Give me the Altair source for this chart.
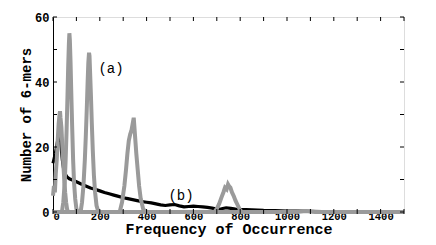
import altair as alt
import pandas as pd

# ---- data ----
# (b) black curve
b_x = [0, 5, 10, 15, 20, 25, 28, 32, 36, 40, 45, 50, 55, 60, 70, 80, 90, 100,
       120, 140, 160, 180, 200, 220, 240, 260, 280, 300, 320, 340, 360, 380, 400,
       420, 440, 460, 480, 500, 520, 540, 560, 580, 600, 620, 640, 660, 680, 700,
       720, 740, 760, 780, 800, 850, 900, 950, 1000, 1050, 1100, 1150, 1200,
       1300, 1400, 1500]
b_y = [15, 16.5, 18, 20, 22, 24, 25.5, 23, 19, 16, 13.5, 12, 11.3, 10.8, 10.2, 9.9, 9.6, 9.3,
       8.6, 8.0, 7.4, 7.0, 6.5, 6.0, 5.6, 5.2, 4.8, 4.4, 4.1, 3.8, 3.5, 3.2, 3.0,
       2.8, 2.5, 2.2, 2.0, 2.2, 2.3, 1.9, 1.6, 1.7, 1.8, 1.7, 1.6, 1.4, 1.2, 0.9,
       1.0, 1.3, 1.1, 0.9, 0.8, 0.7, 0.5, 0.4, 0.3, 0.3, 0.2, 0.1, 0.1,
       0, 0, 0]

# (a) grey peaks
p1_x = [0, 4, 8, 12, 16, 20, 24, 28, 30, 32, 36, 40, 44, 48, 52, 56, 60, 64]
p1_y = [5, 8, 6, 12, 16, 22, 27, 30, 31, 29, 26, 20, 15, 10, 6, 3, 1, 0]
p2_x = [38, 44, 50, 54, 58, 62, 65, 68, 70, 72, 75, 78, 82, 86, 90, 95, 100, 106]
p2_y = [0, 3, 9, 16, 25, 36, 45, 52, 55, 53, 46, 37, 26, 16, 9, 4, 1, 0]
p3_x = [118, 124, 130, 136, 140, 144, 148, 151, 154, 156, 158, 162, 166, 170, 175, 180, 186, 194]
p3_y = [0, 3, 8, 16, 23, 31, 40, 46, 49, 48, 44, 36, 27, 19, 11, 6, 2, 0]
p4_x = [285, 295, 305, 312, 318, 324, 330, 335, 340, 345, 350, 356, 362, 368, 375, 385, 395]
p4_y = [0, 3, 8, 13, 18, 22, 24, 25, 27, 29, 24, 18, 13, 8, 4, 1, 0]
p5_x = [690, 700, 710, 720, 728, 735, 742, 748, 752, 758, 765, 772, 780, 790, 800, 808]
p5_y = [0, 1, 2.5, 4.5, 6, 7.5, 7, 8.5, 8, 7.5, 6, 5, 3.5, 2, 0.5, 0]
base_x = [0, 1040, 1080, 1120, 1500]
base_y = [0, 0, 0.3, 0, 0]

# axis ticks / labels
x_label_vals = [0, 200, 400, 600, 800, 1000, 1200, 1400]
x_tick_vals = list(range(0, 1501, 100))
y_label_vals = [0, 20, 40, 60]
y_tick_vals = [0, 10, 20, 30, 40, 50, 60]

# annotations
ann_text = ["(a)", "(b)"]
ann_x = [248, 547]
ann_y = [44, 5]

W, H = 351, 195
FONT = "Liberation Mono"
GREY = "#9a9a9a"

black_df = pd.DataFrame({"x": b_x, "y": b_y})
grey_parts = []
for name, xs, ys in [("base", base_x, base_y), ("p1", p1_x, p1_y), ("p2", p2_x, p2_y),
                     ("p3", p3_x, p3_y), ("p4", p4_x, p4_y), ("p5", p5_x, p5_y)]:
    grey_parts.append(pd.DataFrame({"x": xs, "y": ys, "peak": name}))
grey_df = pd.concat(grey_parts, ignore_index=True)

xscale = alt.Scale(domain=[0, 1500], nice=False, zero=False)
yscale = alt.Scale(domain=[0, 60], nice=False)

xaxis = alt.Axis(values=x_label_vals, format="d", ticks=False, domain=False, grid=False,
                 labelFont=FONT, labelFontWeight="bold", labelFontSize=10.5,
                 labelPadding=-1, labelColor="black",
                 title="Frequency of Occurrence", titleFont=FONT, titleFontWeight="bold",
                 titleFontSize=15, titleY=21, titleBaseline="alphabetic", titleColor="black")
yaxis = alt.Axis(values=y_label_vals, format="d", ticks=False, domain=True, domainColor="black",
                 grid=False, labelFont=FONT, labelFontWeight="bold", labelFontSize=12,
                 labelPadding=4, labelColor="black",
                 title="Number of 6-mers", titleFont=FONT, titleFontWeight="bold",
                 titleFontSize=14, titleX=-27, titleY=H / 2, titleAngle=270,
                 titleAlign="center", titleBaseline="middle", titleColor="black")

black = alt.Chart(black_df).mark_line(color="black", strokeWidth=3.2).encode(
    x=alt.X("x:Q", scale=xscale, axis=xaxis),
    y=alt.Y("y:Q", scale=yscale, axis=yaxis),
)
grey = alt.Chart(grey_df).mark_line(color=GREY, strokeWidth=4).encode(
    x=alt.X("x:Q", scale=xscale),
    y=alt.Y("y:Q", scale=yscale),
    detail="peak:N",
)

xt = pd.DataFrame({"t": x_tick_vals})
yt = pd.DataFrame({"t": y_tick_vals})
bottom_ticks = alt.Chart(xt).mark_rule(color="black", strokeWidth=1).encode(
    x=alt.X("t:Q", scale=xscale), y=alt.value(H + 2), y2=alt.value(H - 3))
top_ticks = alt.Chart(xt).mark_rule(color="black", strokeWidth=1).encode(
    x=alt.X("t:Q", scale=xscale), y=alt.value(0), y2=alt.value(4))
left_ticks = alt.Chart(yt).mark_rule(color="black", strokeWidth=1).encode(
    y=alt.Y("t:Q", scale=yscale), x=alt.value(0), x2=alt.value(4))
right_ticks = alt.Chart(yt).mark_rule(color="black", strokeWidth=1).encode(
    y=alt.Y("t:Q", scale=yscale), x=alt.value(W), x2=alt.value(W - 4))

ann_df = pd.DataFrame({"label": ann_text, "x": ann_x, "y": ann_y})
ann = alt.Chart(ann_df).mark_text(font=FONT, fontSize=14, color="black",
                                  align="center", baseline="middle").encode(
    x=alt.X("x:Q", scale=xscale), y=alt.Y("y:Q", scale=yscale), text="label:N")

chart = alt.layer(black, grey, bottom_ticks, top_ticks, left_ticks, right_ticks, ann).properties(
    width=W, height=H,
    autosize=alt.AutoSizeParams(type="none"),
    padding={"left": 45, "top": 9, "right": 24, "bottom": 28},
).configure_view(stroke="#666666", strokeWidth=1).configure(background="white")

chart.save("out.html", embed_options={"renderer": "svg", "actions": False})
